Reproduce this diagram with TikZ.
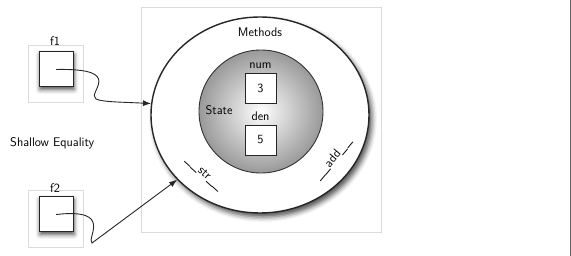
\documentclass[tikz,border=0pt]{standalone}
\usepackage{tikz}
\usetikzlibrary{arrows.meta,positioning,shapes.geometric,shadows.blur}
\newcommand{\labfont}{\sffamily\fontsize{12.5}{15}\selectfont}
\tikzset{
  frame/.style={draw=black!14, line width=0.6pt, inner sep=0pt},
  var/.style={draw=black!85, line width=1pt, fill=white, minimum width=34pt, minimum height=35pt, inner sep=0pt,
    blur shadow={shadow xshift=1pt, shadow yshift=-2.5pt, shadow blur radius=4.5pt, shadow opacity=70}},
  obj/.style={ellipse, draw=black!85, line width=1.4pt, fill=white, inner sep=0pt,
    blur shadow={shadow xshift=3pt, shadow yshift=-4pt, shadow blur radius=5pt, shadow opacity=70}},
  state/.style={ellipse, draw=black!80, line width=0.9pt, inner color=white, outer color=black!40, inner sep=0pt},
  slot/.style={draw=black!85, line width=0.9pt, fill=white, minimum width=31pt, minimum height=30pt, inner sep=0pt, font=\labfont},
  lab/.style={inner sep=0pt, font=\labfont},
  ptr/.style={-{Latex[length=8pt, width=6pt]}, line width=0.9pt, black!85},
}
\begin{document}
\begin{tikzpicture}[x=1pt, y=-1pt]
  \useasboundingbox (0,0) rectangle (571,256);
  \draw[black!60, line width=0.8pt] (570,0) -- (570,256);
  % the object
  \node[frame, minimum width=240pt, minimum height=225pt] (objframe) at (261,119.5) {};
  \node[obj, minimum width=218pt, minimum height=196pt] (obj) at (260,115) {};
  \node[state, minimum width=124pt, minimum height=123pt] (st) at (261,111.5) {};
  \node[lab, anchor=base] (methods) at (260,36.7) {Methods};
  \node[lab, anchor=base] (statelab) at (219,115) {State};
  \node[slot] (num) at (260.5,88) {3};
  \node[slot] (den) at (260.5,140) {5};
  \node[lab, anchor=base] (numlab) at (260.5,68.3) {num};
  \node[lab, anchor=base] (denlab) at (260.5,121) {den};
  \node[lab, rotate=-42] (str) at (204,174) {\_\_str\_\_};
  \node[lab, rotate=50] (add) at (333,159) {\_\_add\_\_};
  % the two references
  \node[frame, minimum width=55pt, minimum height=57pt] (f1frame) at (55.5,73.5) {};
  \node[var] (f1) at (56,69.5) {};
  \node[lab, anchor=base] (f1lab) at (55,46) {f1};
  \node[frame, minimum width=55pt, minimum height=57pt] (f2frame) at (55.5,218.5) {};
  \node[var] (f2) at (56,214.5) {};
  \node[lab, anchor=base] (f2lab) at (55,193) {f2};
  \node[lab, anchor=base west] (title) at (10,146.7) {Shallow Equality};
  \draw[ptr] (f1.center) .. controls (127,68) and (86,93) .. (96,99) .. controls (102,102) and (120,102) .. (obj.174);
  \draw[ptr] (f2.center) .. controls (114,208) and (86,238) .. (92,243) -- (obj.218);
\end{tikzpicture}
\end{document}
